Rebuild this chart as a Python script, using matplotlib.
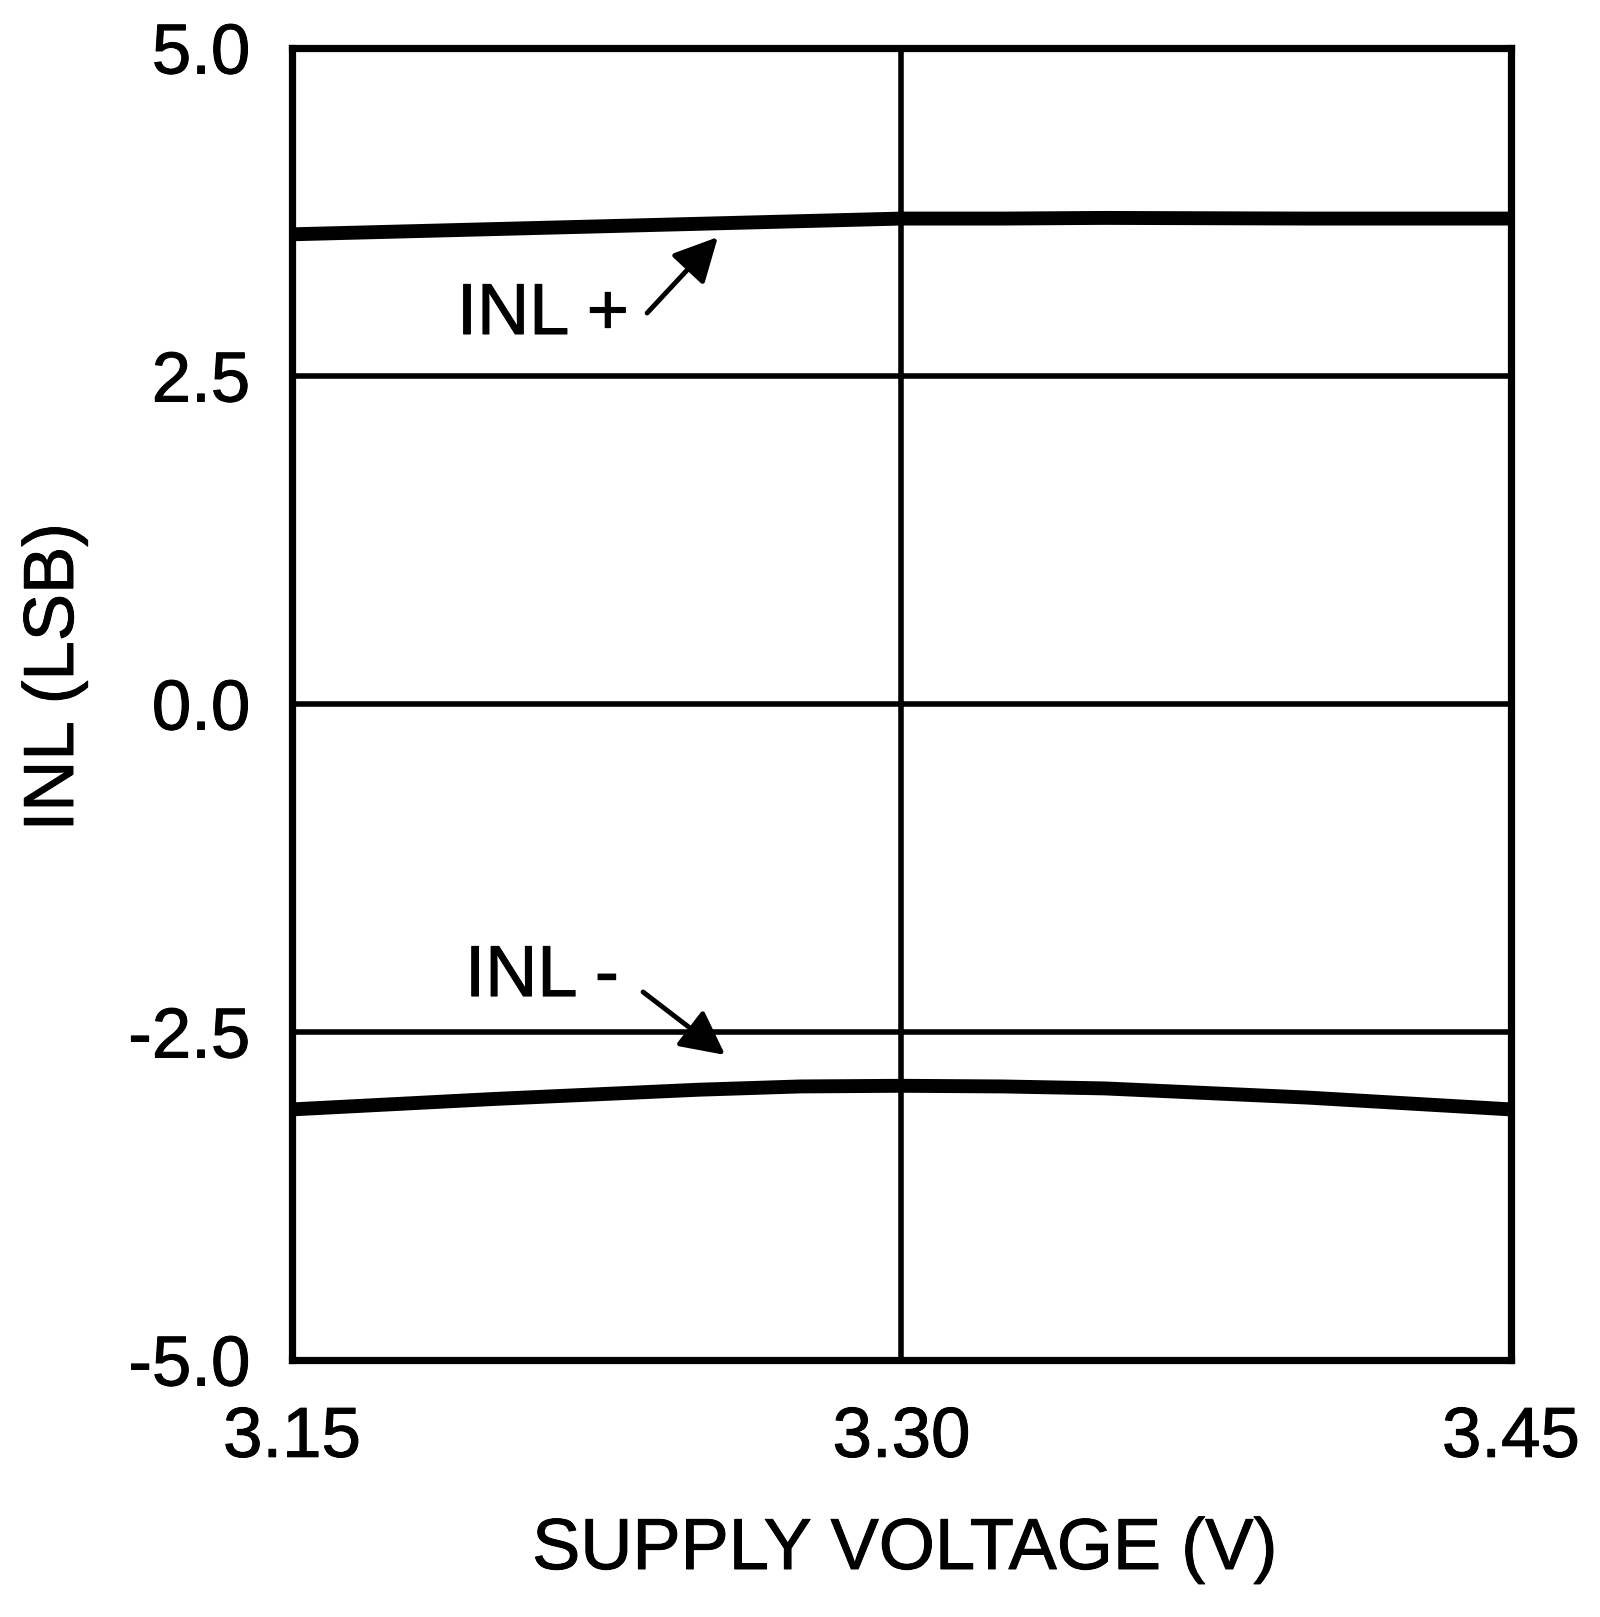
import numpy as np
import matplotlib
matplotlib.use("Agg")
import matplotlib.pyplot as plt
import matplotlib.patheffects as pe

plt.rcParams['font.family'] = ['Liberation Sans', 'DejaVu Sans']

# data
supply_v = np.array([3.15, 3.20, 3.25, 3.275, 3.30, 3.325, 3.35, 3.40, 3.45])
inl_pos = np.array([3.58, 3.62, 3.66, 3.68, 3.70, 3.70, 3.705, 3.70, 3.70])
inl_neg = np.array([-3.09, -3.01, -2.94, -2.915, -2.91, -2.915, -2.93, -3.00, -3.09])

xticks = [3.15, 3.30, 3.45]
xtick_labels = ['3.15', '3.30', '3.45']
yticks = [-5.0, -2.5, 0.0, 2.5, 5.0]
ytick_labels = ['-5.0', '-2.5', '0.0', '2.5', '5.0']

heavy = [pe.withStroke(linewidth=0.7, foreground='black')]

fig = plt.figure(figsize=(16, 16.17), dpi=100)
ax = fig.add_axes([292/1600, 1 - 1360/1617, (1511-292)/1600, (1360-48)/1617])

ax.plot(supply_v, inl_pos, color='black', lw=10, zorder=3)
ax.plot(supply_v, inl_neg, color='black', lw=10, zorder=3)

ax.set_xlim(3.15, 3.45)
ax.set_ylim(-5, 5)
ax.set_xticks(xticks)
ax.set_xticklabels(xtick_labels)
ax.set_yticks(yticks)
ax.set_yticklabels(ytick_labels)
ax.tick_params(length=0, labelsize=51, colors='black')
ax.tick_params(axis='y', pad=30)
ax.tick_params(axis='x', pad=33)
for lab in ax.get_xticklabels() + ax.get_yticklabels():
    lab.set_path_effects(heavy)
ax.grid(True, color='black', lw=4, zorder=1)
for s in ax.spines.values():
    s.set_linewidth(5.2)
    s.set_zorder(4)

# annotations
arrow = dict(arrowstyle='-|>,head_length=0.75,head_width=0.38',
             lw=3.5, color='black', mutation_scale=36,
             shrinkA=0, shrinkB=0)
ax.text(3.1906, 2.82, 'INL +', fontsize=52, ha='left', va='baseline',
        path_effects=heavy)
ax.annotate('', xy=(3.2548, 3.559), xytext=(3.2374, 2.98), arrowprops=arrow)
ax.text(3.1926, -2.226, 'INL -', fontsize=52, ha='left', va='baseline',
        path_effects=heavy)
ax.annotate('', xy=(3.2566, -2.675), xytext=(3.2364, -2.195), arrowprops=arrow)

fig.text(905/1600, 1 - 1569/1617, 'SUPPLY VOLTAGE (V)', fontsize=52,
         ha='center', va='baseline', path_effects=heavy)
fig.text(55/1600, 1 - 677/1617, 'INL (LSB)', fontsize=51, rotation=90,
         ha='center', va='center', path_effects=heavy)

fig.savefig('out.png', dpi=100, facecolor='white')
